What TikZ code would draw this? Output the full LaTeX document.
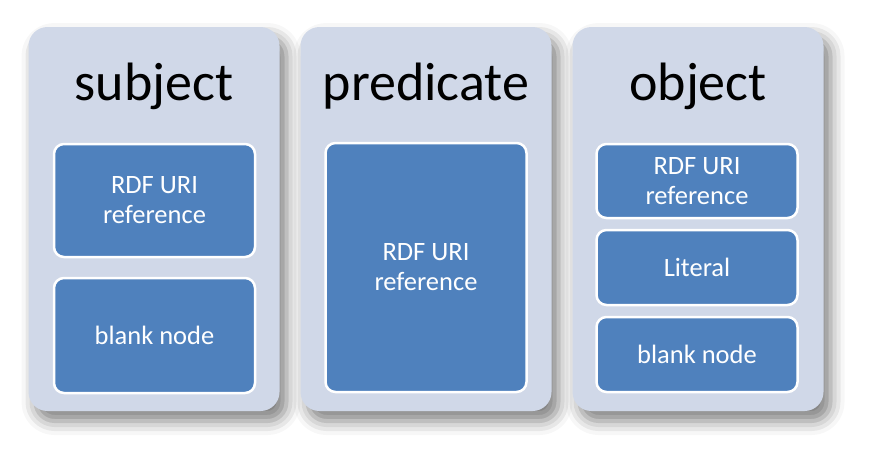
\documentclass[tikz,border=0pt]{standalone}
\usepackage{fontspec}
\setmainfont{Carlito}
\usetikzlibrary{shadows.blur}

\definecolor{panelfill}{HTML}{D0D8E8}
\definecolor{itemblue}{HTML}{4F81BD}

\tikzset{
    panel/.style={fill=panelfill, rounded corners=19pt, minimum width=251pt, minimum height=384pt, inner sep=0pt,
        blur shadow={shadow xshift=7pt, shadow yshift=-10pt, shadow blur radius=14pt, shadow opacity=50}},
    title/.style={font=\fontsize{54}{60}\selectfont, anchor=base, inner sep=0pt},
    item/.style={fill=itemblue, draw=white, line width=2.5pt, rounded corners=10pt, text=white, align=center,
        font=\fontsize{26.5}{30}\selectfont, minimum width=201pt, inner sep=0pt}
}

\begin{document}
\begin{tikzpicture}[x=1pt, y=-1pt]
    \useasboundingbox (0,0) rectangle (880,467);

    % panels
    \node[panel] (subj) at (154,219) {};
    \node[panel] (pred) at (426,219) {};
    \node[panel] (obj) at (698,219) {};

    \node[title] (subjtitle) at (154,100) {subject};
    \node[title] (predtitle) at (426,100) {predicate};
    \node[title] (objtitle) at (698,100) {object};

    % subject
    \node[item, minimum height=113pt] (subjuri) at (154.5,200.5) {RDF URI\\reference};
    \node[item, minimum height=115pt] (subjblank) at (154.5,335.5) {blank node};

    % predicate
    \node[item, minimum height=249pt] (preduri) at (426,267.5) {RDF URI\\reference};

    % object
    \node[item, minimum height=74pt] (objuri) at (697,181) {RDF URI\\reference};
    \node[item, minimum height=75pt] (objlit) at (697,267.5) {Literal};
    \node[item, minimum height=75pt] (objblank) at (697,354.5) {blank node};
\end{tikzpicture}
\end{document}
